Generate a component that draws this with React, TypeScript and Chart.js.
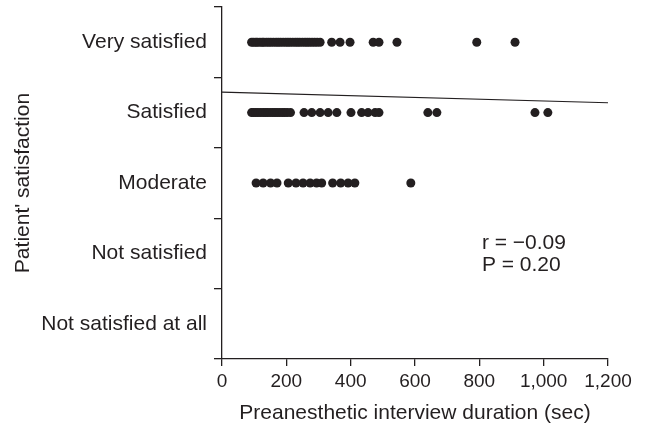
import React, { useEffect, useRef } from "react";
import { Chart, registerables } from "chart.js";

Chart.register(...registerables);

const categoryLabels = ["", "Not satisfied at all", "Not satisfied", "Moderate", "Satisfied", "Very satisfied"];
const xTickValues = [0, 200, 400, 600, 800, 1000, 1200];

const verySatisfiedX = [92, 98, 105, 110, 118, 125, 130, 138, 145, 152, 160, 168, 175, 182, 190, 198, 205, 212, 220, 228, 235, 242, 250, 258, 265, 272, 280, 288, 296, 305, 341, 367, 398, 470, 488, 544, 792, 911];
const satisfiedX = [92, 98, 105, 112, 120, 128, 135, 142, 150, 158, 165, 172, 180, 188, 195, 203, 213, 255, 279, 305, 330, 357, 401, 434, 454, 476, 488, 640, 668, 973, 1013];
const moderateX = [106, 128, 151, 171, 206, 230, 252, 274, 294, 310, 344, 369, 392, 413, 587];

const regressionX = [0, 1200];
const regressionY = [4.29, 4.14];

const statsText = ["r = \u22120.09", "P = 0.20"];
const statsPos = { x: 808, y1: 2.14, y2: 1.83 };

const INK = "#231f20";
const FONT = '"Liberation Sans", Arial, sans-serif';

export default function App() {
  const ref = useRef<HTMLCanvasElement | null>(null);

  useEffect(() => {
    document.body.style.margin = "0";
    const canvas = ref.current;
    if (!canvas) return;

    const points = [
      ...verySatisfiedX.map((x) => ({ x, y: 5 })),
      ...satisfiedX.map((x) => ({ x, y: 4 })),
      ...moderateX.map((x) => ({ x, y: 3 })),
    ];

    const statsPlugin = {
      id: "stats",
      afterDatasetsDraw(chart: any) {
        const { ctx, scales } = chart;
        ctx.save();
        ctx.font = `21px ${FONT}`;
        ctx.fillStyle = INK;
        ctx.textAlign = "left";
        ctx.textBaseline = "middle";
        const x = scales.x.getPixelForValue(statsPos.x);
        ctx.fillText(statsText[0], x, scales.y.getPixelForValue(statsPos.y1));
        ctx.fillText(statsText[1], x, scales.y.getPixelForValue(statsPos.y2));
        ctx.restore();
      },
    };

    const chart = new Chart(canvas, {
      type: "scatter",
      data: {
        datasets: [
          {
            type: "line",
            data: regressionX.map((x, i) => ({ x, y: regressionY[i] })),
            borderColor: INK,
            borderWidth: 1.2,
            pointRadius: 0,
            fill: false,
          } as any,
          {
            data: points,
            backgroundColor: INK,
            borderColor: INK,
            borderWidth: 0,
            pointRadius: 4.5,
            pointHoverRadius: 4.5,
          },
        ],
      },
      options: {
        responsive: false,
        animation: false,
        layout: { padding: { top: 7, right: 38, left: 0, bottom: 0 } },
        plugins: { legend: { display: false }, tooltip: { enabled: false } },
        scales: {
          x: {
            type: "linear",
            min: 0,
            max: 1200,
            afterFit: (s: any) => {
              s.height = 70;
              s.paddingLeft = 0;
              s.paddingRight = 0;
            },
            afterBuildTicks: (s: any) => {
              s.ticks = xTickValues.map((v) => ({ value: v }));
            },
            ticks: {
              color: INK,
              font: { family: FONT, size: 19 },
              padding: 4,
              maxRotation: 0,
              autoSkip: false,
            },
            grid: {
              drawOnChartArea: false,
              drawTicks: true,
              tickLength: 7,
              color: INK,
              lineWidth: 1.3,
            },
            border: { display: true, color: INK, width: 1.3 },
            title: {
              display: true,
              text: "Preanesthetic interview duration (sec)",
              color: INK,
              font: { family: FONT, size: 21 },
              padding: { top: 0, bottom: 3 },
            },
          },
          y: {
            type: "linear",
            min: 0.5,
            max: 5.5,
            afterFit: (s: any) => {
              s.width = 222;
              s.paddingTop = 0;
              s.paddingBottom = 0;
            },
            afterBuildTicks: (s: any) => {
              const t = [];
              for (let i = 0; i <= 10; i++) t.push({ value: 0.5 + i * 0.5 });
              s.ticks = t;
            },
            ticks: {
              color: INK,
              font: { family: FONT, size: 21 },
              padding: 7,
              autoSkip: false,
              callback: (v: any) => {
                const n = Number(v);
                return Number.isInteger(n) ? categoryLabels[n] : "";
              },
            },
            grid: {
              drawOnChartArea: false,
              drawTicks: true,
              tickLength: 8,
              lineWidth: 1.3,
              color: (c: any) =>
                c.tick && Number.isInteger(c.tick.value) ? "rgba(0,0,0,0)" : INK,
            },
            border: { display: true, color: INK, width: 1.3 },
            title: {
              display: true,
              text: "Patient' satisfaction",
              color: INK,
              font: { family: FONT, size: 21 },
              padding: { top: 11, bottom: 0 },
            },
          },
        },
      },
      plugins: [statsPlugin],
    } as any);

    return () => chart.destroy();
  }, []);

  return (
    <div style={{ width: 646, height: 429 }}>
      <canvas ref={ref} width={646} height={429} style={{ display: "block" }} />
    </div>
  );
}
